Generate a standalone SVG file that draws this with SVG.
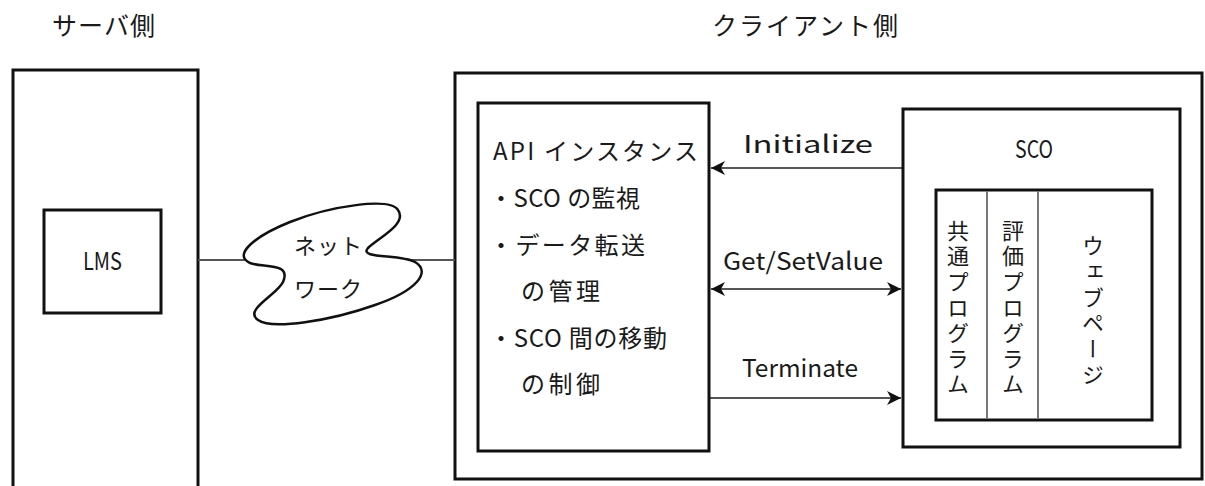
<svg xmlns="http://www.w3.org/2000/svg" width="1205" height="486" viewBox="0 0 1205 486">
<style>
.box{fill:none;stroke:#111;stroke-width:3}
.t{font-family:"Noto Sans CJK JP","Noto Sans",sans-serif;fill:#1a1a1a}
.jp{font-size:24px}
.lat{font-size:24px}
.v{font-size:22px;writing-mode:vertical-rl;text-anchor:middle}
.conn{stroke:#555;stroke-width:2;fill:none}
.div{stroke:#777;stroke-width:2}
</style>
<defs>
<marker id="ah" markerUnits="userSpaceOnUse" markerWidth="16" markerHeight="16" refX="14" refY="8" orient="auto-start-reverse">
<path d="M0,1 L14,8 L0,15 L4,8 z" fill="#111"/>
</marker>
</defs>
<rect width="1205" height="486" fill="#fff"/>
<text class="t" x="52" y="35" style="font-size:25px" textLength="103" lengthAdjust="spacing">サーバ側</text>
<text class="t" x="712" y="35" style="font-size:25px" textLength="186" lengthAdjust="spacing">クライアント側</text>

<g id="server">
<rect class="box" x="13" y="70" width="185" height="440"/>
</g>
<g id="lms">
<rect class="box" x="44" y="210" width="117" height="103"/>
<text class="t lat" x="102.5" y="270" text-anchor="middle" textLength="39" lengthAdjust="spacingAndGlyphs">LMS</text>
</g>
<g id="client">
<rect class="box" x="455" y="73" width="747" height="406"/>
</g>
<g id="connectors">
<line class="conn" x1="198" y1="260" x2="250" y2="260"/>
<line class="conn" x1="410" y1="260" x2="455" y2="260"/>
<line class="conn" x1="903" y1="168" x2="711" y2="168" marker-end="url(#ah)"/>
<line class="conn" x1="711" y1="289" x2="901" y2="289" marker-start="url(#ah)" marker-end="url(#ah)"/>
<line class="conn" x1="709" y1="398" x2="901" y2="398" marker-end="url(#ah)"/>
<text class="t lat" x="743" y="153" textLength="130" lengthAdjust="spacingAndGlyphs">Initialize</text>
<text class="t lat" x="723" y="270" textLength="160" lengthAdjust="spacingAndGlyphs">Get/SetValue</text>
<text class="t lat" x="742" y="377" textLength="116" lengthAdjust="spacingAndGlyphs">Terminate</text>
</g>
<g id="network">
<path d="M368,248 C378,238 408,224 398,210 C390,197 330,206 290,222 C255,236 232,255 250,263 C262,268 292,262 283,282 C277,295 243,310 258,320 C272,330 330,321 375,305 C416,291 432,272 415,262 C400,254 358,259 368,248 Z" fill="#fff" stroke="#111" stroke-width="2.5"/>
<text class="t" x="328" y="254" text-anchor="middle" style="font-size:22px" textLength="68" lengthAdjust="spacing">ネット</text>
<text class="t" x="328" y="297" text-anchor="middle" style="font-size:22px" textLength="68" lengthAdjust="spacing">ワーク</text>
</g>
<g id="api">
<rect class="box" x="478" y="103" width="231" height="348"/>
<text class="t jp" x="493" y="160" textLength="205" lengthAdjust="spacing">API インスタンス</text>
<text class="t jp" x="489" y="207" textLength="151" lengthAdjust="spacing">・SCO の監視</text>
<text class="t jp" x="489" y="254" textLength="156" lengthAdjust="spacing">・データ転送</text>
<text class="t jp" x="521" y="300" textLength="79" lengthAdjust="spacing">の管理</text>
<text class="t jp" x="489" y="347" textLength="178" lengthAdjust="spacing">・SCO 間の移動</text>
<text class="t jp" x="521" y="393" textLength="79" lengthAdjust="spacing">の制御</text>
</g>
<g id="sco">
<rect class="box" x="903" y="109" width="277" height="338"/>
<text class="t lat" x="1034" y="158" text-anchor="middle" textLength="38" lengthAdjust="spacingAndGlyphs">SCO</text>
</g>
<g id="sco-inner">
<rect class="box" x="936" y="190" width="216" height="230"/>
<line class="div" x1="987" y1="191" x2="987" y2="419"/>
<line class="div" x1="1038" y1="191" x2="1038" y2="419"/>
<text class="t v" x="958" y="309" style="letter-spacing:3.6px">共通プログラム</text>
<text class="t v" x="1013" y="309" style="letter-spacing:3.6px">評価プログラム</text>
<text class="t v" x="1093" y="312" style="letter-spacing:3.7px">ウェブページ</text>
</g>
</svg>
